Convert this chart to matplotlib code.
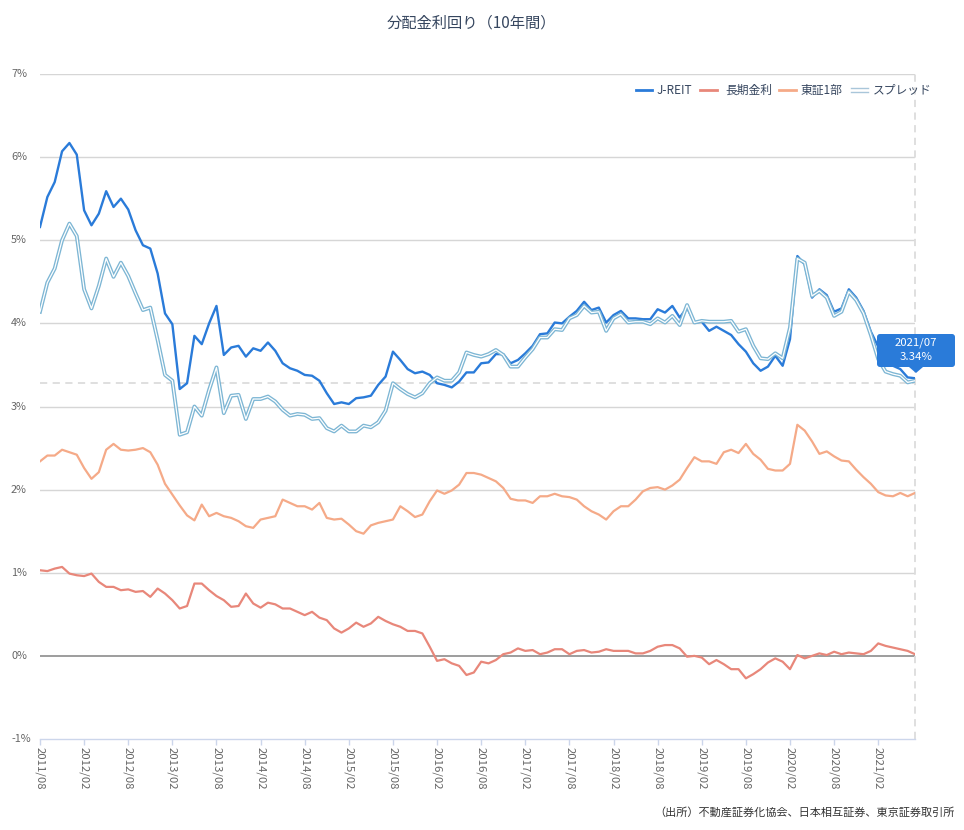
import matplotlib.pyplot as plt
from matplotlib.lines import Line2D
from matplotlib.patches import FancyBboxPatch, Polygon
from matplotlib.transforms import IdentityTransform, blended_transform_factory

plt.rcParams['font.family'] = ['Noto Sans CJK JP', 'DejaVu Sans']

# monthly yields, 2011/08 .. 2021/07 (%)
jreit = [5.16, 5.52, 5.70, 6.07, 6.17, 6.03, 5.36, 5.18, 5.32, 5.59,
         5.40, 5.50, 5.37, 5.12, 4.94, 4.90, 4.60, 4.12, 3.99, 3.21,
         3.28, 3.85, 3.75, 4.00, 4.21, 3.62, 3.71, 3.73, 3.60, 3.70,
         3.67, 3.77, 3.67, 3.52, 3.46, 3.43, 3.38, 3.37, 3.31, 3.16,
         3.03, 3.05, 3.03, 3.10, 3.11, 3.13, 3.26, 3.36, 3.66, 3.56,
         3.45, 3.40, 3.42, 3.38, 3.28, 3.26, 3.23, 3.30, 3.41, 3.41,
         3.52, 3.53, 3.63, 3.63, 3.52, 3.56, 3.64, 3.73, 3.87, 3.88,
         4.01, 4.00, 4.08, 4.15, 4.26, 4.16, 4.19, 4.01, 4.10, 4.15,
         4.06, 4.06, 4.05, 4.05, 4.17, 4.13, 4.21, 4.07, 4.19, 4.01,
         4.02, 3.91, 3.96, 3.91, 3.86, 3.75, 3.66, 3.52, 3.43, 3.48,
         3.61, 3.49, 3.81, 4.81, 4.71, 4.31, 4.41, 4.34, 4.14, 4.18,
         4.41, 4.31, 4.15, 3.90, 3.72, 3.54, 3.49, 3.45, 3.35, 3.34]

jgb = [1.03, 1.02, 1.05, 1.07, 0.99, 0.97, 0.96, 0.99, 0.89, 0.83,
       0.83, 0.79, 0.80, 0.77, 0.78, 0.71, 0.81, 0.75, 0.67, 0.57,
       0.60, 0.87, 0.87, 0.79, 0.72, 0.67, 0.59, 0.60, 0.75, 0.63,
       0.58, 0.64, 0.62, 0.57, 0.57, 0.53, 0.49, 0.53, 0.46, 0.43,
       0.33, 0.28, 0.33, 0.40, 0.35, 0.39, 0.47, 0.42, 0.38, 0.35,
       0.30, 0.30, 0.27, 0.11, -0.06, -0.04, -0.09, -0.12, -0.23, -0.20,
       -0.07, -0.09, -0.05, 0.02, 0.04, 0.09, 0.06, 0.07, 0.02, 0.04,
       0.08, 0.08, 0.02, 0.06, 0.07, 0.04, 0.05, 0.08, 0.06, 0.06,
       0.06, 0.03, 0.03, 0.06, 0.11, 0.13, 0.13, 0.09, -0.01, 0.00,
       -0.02, -0.10, -0.05, -0.10, -0.16, -0.16, -0.27, -0.22, -0.16, -0.08,
       -0.03, -0.07, -0.16, 0.01, -0.03, 0.00, 0.03, 0.01, 0.05, 0.02,
       0.04, 0.03, 0.02, 0.06, 0.15, 0.12, 0.10, 0.08, 0.06, 0.02]

topix = [2.34, 2.41, 2.41, 2.48, 2.45, 2.42, 2.26, 2.13, 2.21, 2.48,
         2.55, 2.48, 2.47, 2.48, 2.50, 2.45, 2.30, 2.07, 1.94, 1.81,
         1.69, 1.63, 1.82, 1.68, 1.72, 1.68, 1.66, 1.62, 1.56, 1.54,
         1.64, 1.66, 1.68, 1.88, 1.84, 1.80, 1.80, 1.76, 1.84, 1.66,
         1.64, 1.65, 1.58, 1.50, 1.47, 1.57, 1.60, 1.62, 1.64, 1.80,
         1.74, 1.67, 1.70, 1.86, 1.99, 1.95, 1.99, 2.06, 2.20, 2.20,
         2.18, 2.14, 2.10, 2.02, 1.89, 1.87, 1.87, 1.84, 1.92, 1.92,
         1.95, 1.92, 1.91, 1.88, 1.80, 1.74, 1.70, 1.64, 1.74, 1.80,
         1.80, 1.88, 1.98, 2.02, 2.03, 2.00, 2.05, 2.12, 2.26, 2.39,
         2.34, 2.34, 2.31, 2.45, 2.48, 2.44, 2.55, 2.43, 2.36, 2.25,
         2.23, 2.23, 2.31, 2.78, 2.71, 2.58, 2.43, 2.46, 2.40, 2.35,
         2.34, 2.24, 2.15, 2.07, 1.97, 1.93, 1.92, 1.96, 1.92, 1.96]

spread = [4.14, 4.49, 4.66, 5.00, 5.20, 5.05, 4.41, 4.18, 4.45, 4.78,
          4.56, 4.73, 4.57, 4.36, 4.16, 4.19, 3.80, 3.38, 3.31, 2.66,
          2.69, 3.00, 2.89, 3.20, 3.47, 2.92, 3.13, 3.14, 2.85, 3.09,
          3.09, 3.12, 3.06, 2.96, 2.89, 2.91, 2.90, 2.85, 2.86, 2.74,
          2.70, 2.77, 2.70, 2.70, 2.77, 2.75, 2.81, 2.95, 3.28, 3.21,
          3.15, 3.11, 3.16, 3.28, 3.35, 3.31, 3.31, 3.41, 3.65, 3.62,
          3.60, 3.63, 3.68, 3.62, 3.48, 3.48, 3.59, 3.69, 3.83, 3.83,
          3.93, 3.92, 4.06, 4.10, 4.21, 4.13, 4.14, 3.91, 4.06, 4.11,
          4.01, 4.02, 4.02, 3.99, 4.06, 4.01, 4.09, 3.98, 4.22, 4.01,
          4.03, 4.02, 4.02, 4.02, 4.03, 3.90, 3.93, 3.73, 3.58, 3.57,
          3.64, 3.58, 3.95, 4.78, 4.73, 4.33, 4.39, 4.31, 4.09, 4.14,
          4.38, 4.28, 4.12, 3.86, 3.57, 3.42, 3.39, 3.37, 3.29, 3.31]

tick_labels = ['2011/08', '2012/02', '2012/08', '2013/02', '2013/08',
               '2014/02', '2014/08', '2015/02', '2015/08', '2016/02',
               '2016/08', '2017/02', '2017/08', '2018/02', '2018/08',
               '2019/02', '2019/08', '2020/02', '2020/08', '2021/02']
y_ticks = [-1, 0, 1, 2, 3, 4, 5, 6, 7]
last_month = '2021/07'
crosshair_y = 3.285

series_names = ['J-REIT', '長期金利', '東証1部', 'スプレッド']
c_jreit = '#2a7bd9'
c_jgb = '#e8877a'
c_topix = '#f5aa88'
c_spread = '#7db6d4'
text_c = '#36465f'

W, H = 964, 830
fig = plt.figure(figsize=(W / 100, H / 100), dpi=100)
ax = fig.add_axes([40 / W, 91 / H, 875 / W, 665 / H])

x = list(range(len(jreit)))

for v in y_ticks[1:]:
    if v == 0:
        ax.axhline(v, color='#8c8c8c', lw=1.2, zorder=1)
    else:
        ax.axhline(v, color='#d6d6d6', lw=1.0, zorder=1)

ax.axhline(crosshair_y, color='#dcdcdc', lw=1.3, ls=(0, (4, 3)), zorder=1)
ax.axvline(x[-1], color='#dcdcdc', lw=1.3, ls=(0, (4, 3)), zorder=1, clip_on=False)

ax.plot(x, jreit, color=c_jreit, lw=1.7, zorder=3)
ax.plot(x, jgb, color=c_jgb, lw=1.6, zorder=3)
ax.plot(x, topix, color=c_topix, lw=1.6, zorder=3)
ax.plot(x, spread, color=c_spread, lw=2.8, zorder=4)
ax.plot(x, spread, color='white', lw=0.9, zorder=4)

ax.set_xlim(0, x[-1])
ax.set_ylim(-1, 7)
for s in ['top', 'right', 'left']:
    ax.spines[s].set_visible(False)
ax.spines['bottom'].set_color('#ccd6eb')
ax.spines['bottom'].set_linewidth(1.0)

ax.set_xticks(x[::6])
ax.set_xticklabels(tick_labels, rotation=-90, fontsize=8.2, color='#666666')
ax.tick_params(axis='x', length=4, width=1, color='#ccd6eb', pad=2)
ax.set_yticks([])

ytr = blended_transform_factory(fig.transFigure, ax.transData)
for v in y_ticks:
    ax.text(11 / W, v, f'{v}%', transform=ytr, ha='left', va='center',
            fontsize=7.8, color='#666666')

# title and source
fig.text(471 / W, 1 - 23 / H, '分配金利回り（10年間）', ha='center', va='center',
         fontsize=11, color=text_c)
fig.text(955 / W, 1 - 812 / H, '（出所）不動産証券化協会、日本相互証券、東京証券取引所',
         ha='right', va='center', fontsize=8, color='#333333')

# legend
leg_y = 1 - 90 / H
leg_items = [(636, 652, 657, c_jreit), (700, 717, 725, c_jgb),
             (779, 796, 801, c_topix), (851, 868, 873, None)]
for name, (x0, x1, tx, col) in zip(series_names, leg_items):
    if col is None:
        for dy in (-1.6, 1.6):
            fig.add_artist(Line2D([x0 / W, x1 / W], [leg_y + dy / H, leg_y + dy / H],
                                  color='#a9c6da', lw=1.0))
    else:
        fig.add_artist(Line2D([x0 / W, x1 / W], [leg_y, leg_y], color=col, lw=2))
    fig.text(tx / W, leg_y, name, ha='left', va='center', fontsize=8.5, color=text_c)

# tooltip
idt = IdentityTransform()
box = FancyBboxPatch((877, H - 367), 78, 33, boxstyle='round,pad=0,rounding_size=3',
                     transform=idt, facecolor=c_jreit, edgecolor='none', zorder=10)
fig.add_artist(box)
tip = Polygon([(909, H - 367), (916, H - 373), (923, H - 367)], closed=True,
              transform=idt, facecolor=c_jreit, edgecolor='none', zorder=10)
fig.add_artist(tip)
fig.text(916 / W, 1 - 343 / H, last_month, ha='center', va='center',
         fontsize=8.2, color='white', zorder=11)
fig.text(916 / W, 1 - 357 / H, f'{jreit[-1]:.2f}%', ha='center', va='center',
         fontsize=8.2, color='white', zorder=11)

fig.savefig('out.png', dpi=100)
